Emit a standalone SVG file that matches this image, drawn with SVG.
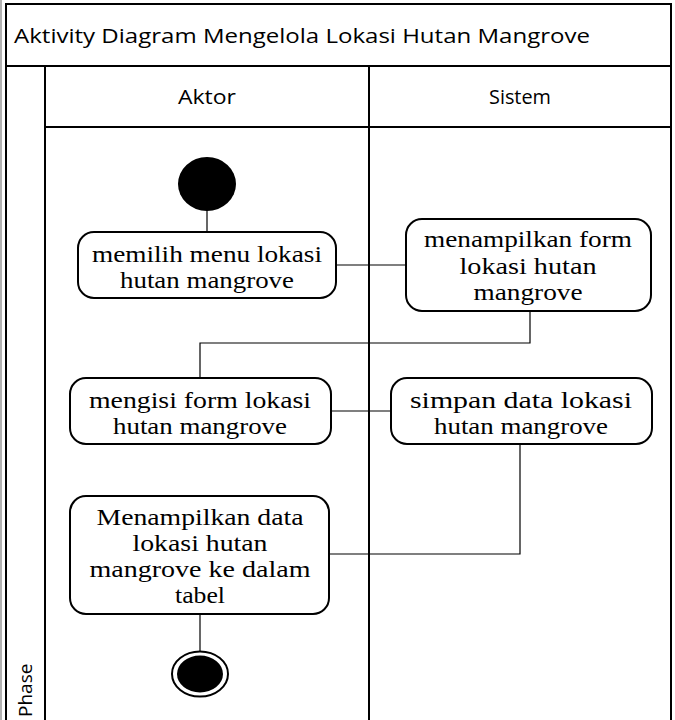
<svg xmlns="http://www.w3.org/2000/svg" width="675" height="720" viewBox="0 0 675 720">
<style>
.frame{fill:none;stroke:#000;stroke-width:2}
.act{fill:#fff;stroke:#000;stroke-width:2}
.conn{fill:none;stroke:#000;stroke-width:1.2}
.t{font-family:"Liberation Serif","Times New Roman",serif;font-size:23px;text-anchor:middle;fill:#000}
.h{font-family:"Open Sans","Noto Sans",sans-serif;font-size:20px;fill:#000}
</style>
<rect width="675" height="720" fill="#fff"/>
<line x1="1" y1="0" x2="1" y2="720" stroke="#999" stroke-width="1.5"/>
<g id="frame">
<rect class="frame" x="6" y="4" width="665" height="730"/>
<line class="frame" x1="6" y1="66" x2="671" y2="66"/>
<line class="frame" x1="45" y1="66" x2="45" y2="720"/>
<line class="frame" x1="45" y1="127" x2="671" y2="127"/>
<line class="frame" x1="369" y1="66" x2="369" y2="720"/>
<text class="h" x="14" y="43" textLength="576" lengthAdjust="spacingAndGlyphs">Aktivity Diagram Mengelola Lokasi Hutan Mangrove</text>
<text class="h" x="207" y="104" text-anchor="middle" textLength="58" lengthAdjust="spacingAndGlyphs">Aktor</text>
<text class="h" x="520" y="104" text-anchor="middle" textLength="62" lengthAdjust="spacingAndGlyphs">Sistem</text>
<text class="h" transform="translate(32,717) rotate(-90)" style="font-size:19px">Phase</text>
</g>
<g id="connectors">
<line class="conn" x1="207" y1="210" x2="207" y2="232"/>
<polyline class="conn" points="336,265 406,265"/>
<polyline class="conn" points="530,311 530,343 200,343 200,378"/>
<polyline class="conn" points="331,411 391,411"/>
<polyline class="conn" points="520,444 520,554 329,554"/>
<line class="conn" x1="200" y1="614" x2="200" y2="652"/>
</g>
<g id="start"><ellipse cx="207" cy="184" rx="29" ry="27" fill="#000"/></g>
<g id="a1">
<rect class="act" x="78" y="232" width="258" height="66" rx="16"/>
<text class="t" x="207" y="262" textLength="230" lengthAdjust="spacingAndGlyphs">memilih menu lokasi</text>
<text class="t" x="207" y="288" textLength="174" lengthAdjust="spacingAndGlyphs">hutan mangrove</text>
</g>
<g id="a2">
<rect class="act" x="406" y="219" width="245" height="92" rx="16"/>
<text class="t" x="528" y="247" textLength="208" lengthAdjust="spacingAndGlyphs">menampilkan form</text>
<text class="t" x="528" y="274" textLength="137" lengthAdjust="spacingAndGlyphs">lokasi hutan</text>
<text class="t" x="528" y="300" textLength="109" lengthAdjust="spacingAndGlyphs">mangrove</text>
</g>
<g id="a3">
<rect class="act" x="70" y="378" width="261" height="66" rx="16"/>
<text class="t" x="200" y="408" textLength="222" lengthAdjust="spacingAndGlyphs">mengisi form lokasi</text>
<text class="t" x="200" y="434" textLength="174" lengthAdjust="spacingAndGlyphs">hutan mangrove</text>
</g>
<g id="a4">
<rect class="act" x="391" y="378" width="261" height="66" rx="16"/>
<text class="t" x="521" y="408" textLength="222" lengthAdjust="spacingAndGlyphs">simpan data lokasi</text>
<text class="t" x="521" y="434" textLength="174" lengthAdjust="spacingAndGlyphs">hutan mangrove</text>
</g>
<g id="a5">
<rect class="act" x="70" y="496" width="259" height="118" rx="16"/>
<text class="t" x="200" y="525" textLength="207" lengthAdjust="spacingAndGlyphs">Menampilkan data</text>
<text class="t" x="200" y="551" textLength="135" lengthAdjust="spacingAndGlyphs">lokasi hutan</text>
<text class="t" x="200" y="577" textLength="221" lengthAdjust="spacingAndGlyphs">mangrove ke dalam</text>
<text class="t" x="200" y="603" textLength="50" lengthAdjust="spacingAndGlyphs">tabel</text>
</g>
<g id="end">
<ellipse cx="200" cy="674" rx="28" ry="22.5" fill="#fff" stroke="#000" stroke-width="2"/>
<ellipse cx="200" cy="674" rx="23" ry="18.5" fill="#000"/>
</g>
</svg>
